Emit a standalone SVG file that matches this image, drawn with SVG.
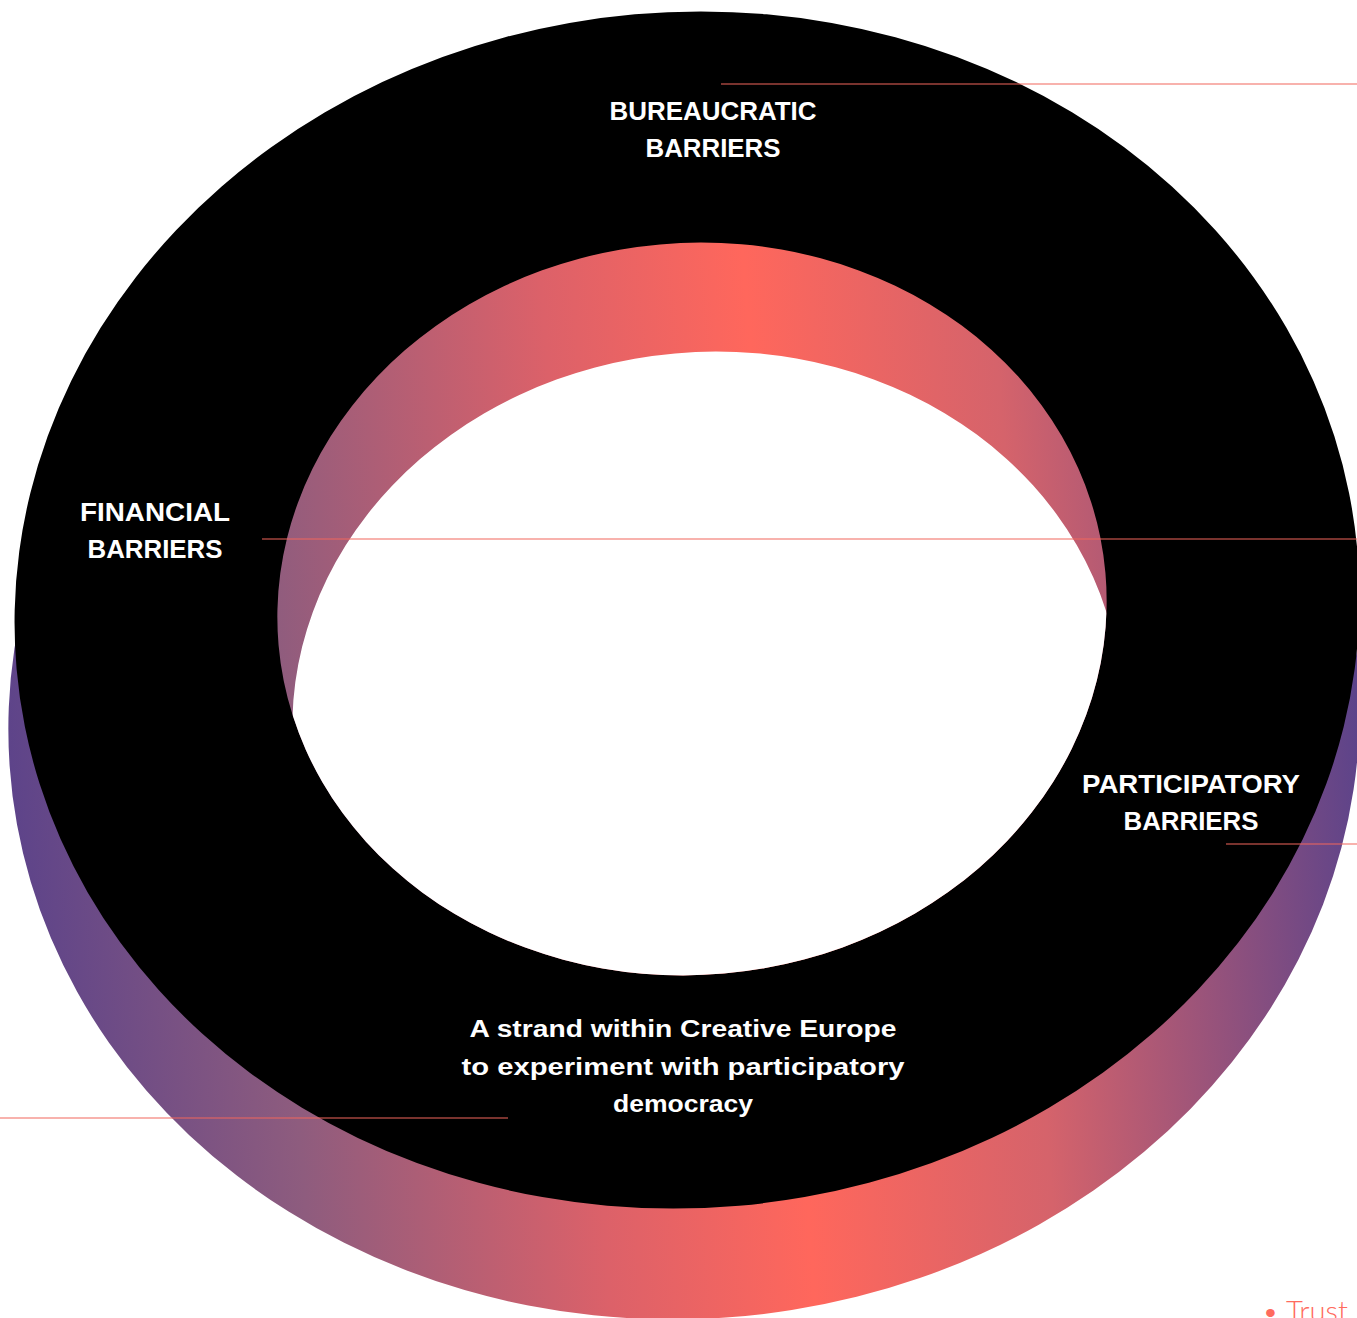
<svg xmlns="http://www.w3.org/2000/svg" width="1357" height="1318" viewBox="0 0 1357 1318">
  <style>
    .lbl { font-family: "Liberation Sans", "DejaVu Sans", Arial, sans-serif; font-weight: 700; fill: #ffffff; text-anchor: middle; }
    .head { font-size: 25px; }
    .body { font-size: 24px; }
    .conn { stroke: #f2675c; stroke-width: 1.2; fill: none; }
    .trust { font-family: "Lato", "Liberation Sans", sans-serif; font-weight: 300; font-size: 28px; fill: #ff6b5e; }
  </style>
  <defs>
    <linearGradient id="grad" gradientUnits="userSpaceOnUse" x1="0" y1="0" x2="1357" y2="0">
      <stop offset="0" stop-color="#5c438a"/>
      <stop offset="0.2" stop-color="#8e5c7e"/>
      <stop offset="0.42" stop-color="#dc6169"/>
      <stop offset="0.57" stop-color="#ff675c"/>
      <stop offset="0.75" stop-color="#d5636b"/>
      <stop offset="1" stop-color="#5c438a"/>
    </linearGradient>
    <clipPath id="holeClip">
      <ellipse cx="692" cy="609" rx="415" ry="366" transform="rotate(-5 692 609)"/>
    </clipPath>
  </defs>
  <rect width="1357" height="1318" fill="#ffffff"/>
  <g id="ring">
    <ellipse cx="684" cy="719" rx="676" ry="600" transform="rotate(-4 684 719)" fill="url(#grad)"/>
    <ellipse cx="687" cy="610" rx="673" ry="598" transform="rotate(-5 687 610)" fill="#000000"/>
    <ellipse cx="692" cy="609" rx="415" ry="366" transform="rotate(-5 692 609)" fill="url(#grad)"/>
    <g clip-path="url(#holeClip)">
      <ellipse cx="707" cy="718" rx="415" ry="366" transform="rotate(-5 707 718)" fill="#ffffff"/>
    </g>
  </g>
  <g id="connectors">
    <line class="conn" x1="721" y1="84" x2="1357" y2="84"/>
    <line class="conn" x1="262" y1="539" x2="1357" y2="539"/>
    <line class="conn" x1="1226" y1="844" x2="1357" y2="844"/>
    <line class="conn" x1="0" y1="1118" x2="508" y2="1118"/>
  </g>
  <g id="node-bureaucratic">
    <text class="lbl head" x="713" y="120" textLength="207" lengthAdjust="spacingAndGlyphs">BUREAUCRATIC</text>
    <text class="lbl head" x="713" y="157" textLength="135" lengthAdjust="spacingAndGlyphs">BARRIERS</text>
  </g>
  <g id="node-financial">
    <text class="lbl head" x="155" y="521" textLength="150" lengthAdjust="spacingAndGlyphs">FINANCIAL</text>
    <text class="lbl head" x="155" y="558" textLength="135" lengthAdjust="spacingAndGlyphs">BARRIERS</text>
  </g>
  <g id="node-participatory">
    <text class="lbl head" x="1191" y="793" textLength="218" lengthAdjust="spacingAndGlyphs">PARTICIPATORY</text>
    <text class="lbl head" x="1191" y="830" textLength="135" lengthAdjust="spacingAndGlyphs">BARRIERS</text>
  </g>
  <g id="node-strand">
    <text class="lbl body" x="683" y="1037" textLength="427" lengthAdjust="spacingAndGlyphs">A strand within Creative Europe</text>
    <text class="lbl body" x="683" y="1075" textLength="443" lengthAdjust="spacingAndGlyphs">to experiment with participatory</text>
    <text class="lbl body" x="683" y="1112" textLength="140" lengthAdjust="spacingAndGlyphs">democracy</text>
  </g>
  <g id="node-trust">
    <text class="trust" x="1262" y="1321" textLength="86" lengthAdjust="spacingAndGlyphs">• Trust</text>
  </g>
</svg>
